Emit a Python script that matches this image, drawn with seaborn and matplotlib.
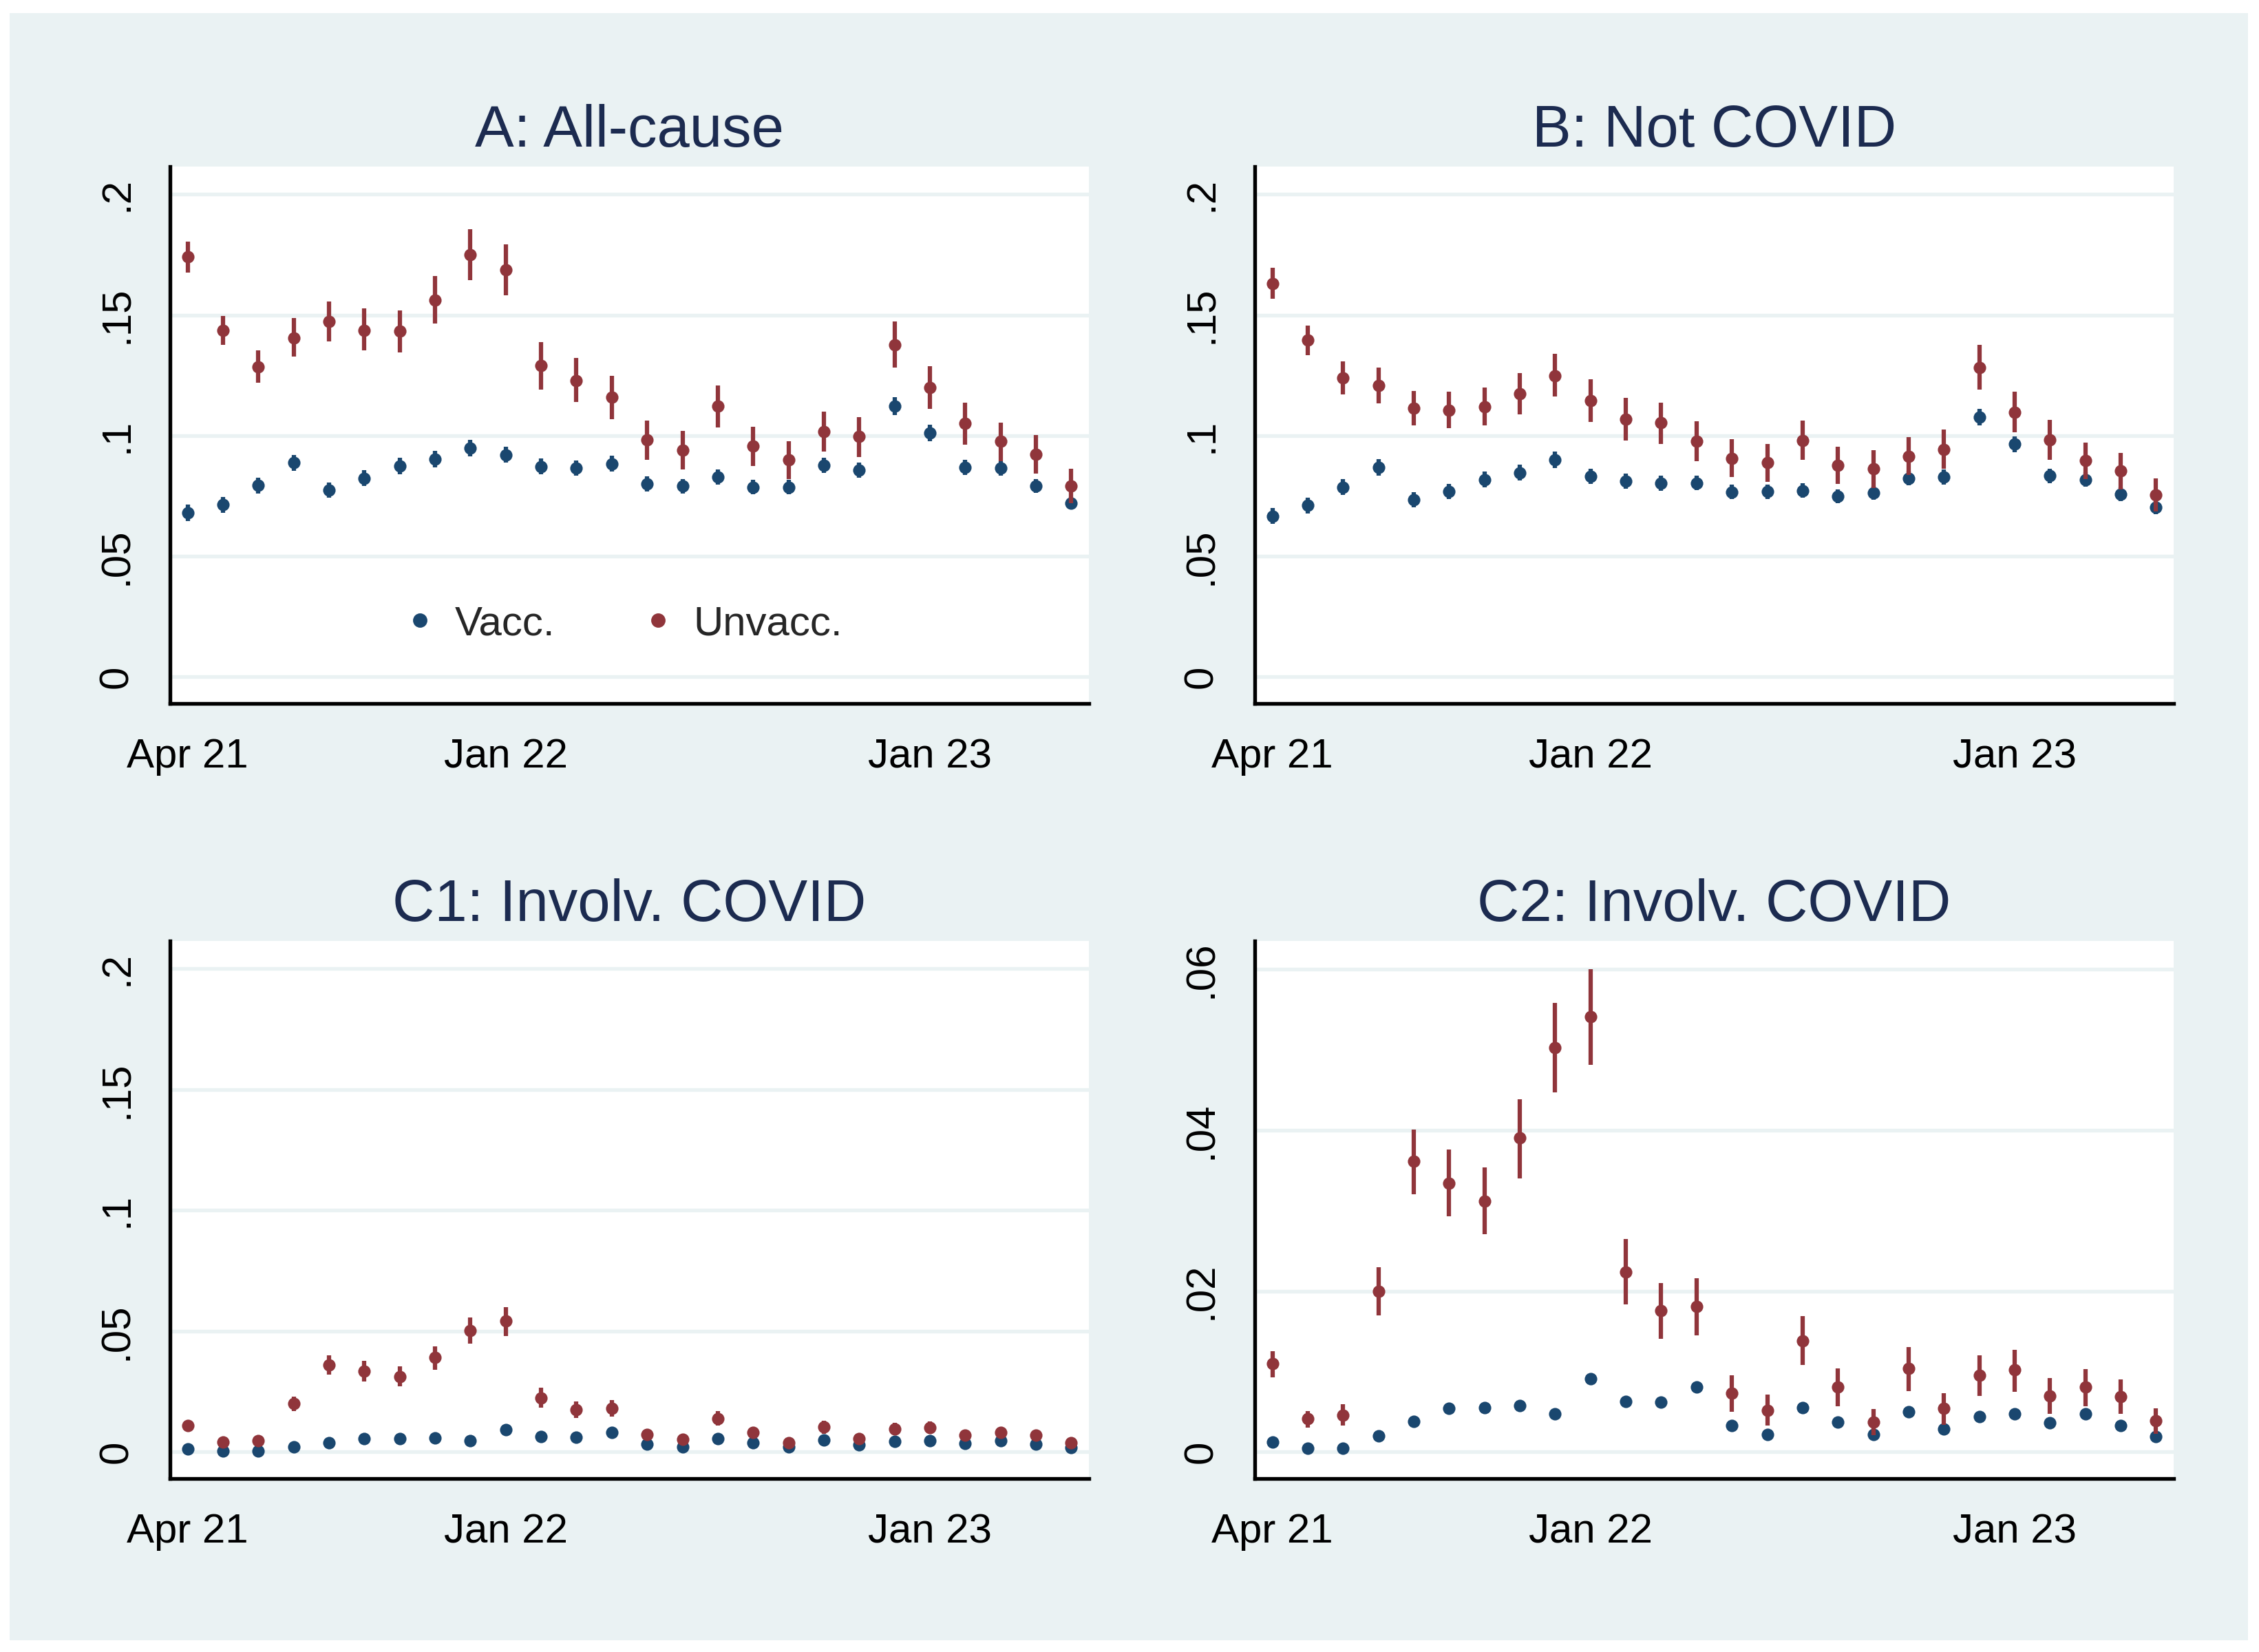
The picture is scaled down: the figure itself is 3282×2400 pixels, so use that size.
"""
Monthly mortality rates, vaccinated vs unvaccinated, four panels (Stata s2color look).
"""
import numpy as np
import pandas as pd
import matplotlib.pyplot as plt
from matplotlib.lines import Line2D
from matplotlib.patches import Rectangle
import seaborn as sns

# Apr 2021 .. May 2023, one point per month
months = ["Apr 21", "May 21", "Jun 21", "Jul 21", "Aug 21", "Sep 21", "Oct 21", "Nov 21", "Dec 21",
          "Jan 22", "Feb 22", "Mar 22", "Apr 22", "May 22", "Jun 22", "Jul 22", "Aug 22", "Sep 22",
          "Oct 22", "Nov 22", "Dec 22", "Jan 23", "Feb 23", "Mar 23", "Apr 23", "May 23"]
tick_months = ["Apr 21", "Jan 22", "Jan 23"]

# A: all-cause
vacc_A = [0.0679, 0.0714, 0.0793, 0.0887, 0.0774, 0.0824, 0.0874, 0.0902, 0.0948, 0.0921, 0.0872, 0.0865, 0.0884,
          0.0801, 0.0790, 0.0829, 0.0786, 0.0786, 0.0877, 0.0857, 0.1122, 0.1010, 0.0868, 0.0865, 0.0792, 0.0720]
vacc_A_hw = [0.0034, 0.0033, 0.0033, 0.0034, 0.0032, 0.0033, 0.0034, 0.0034, 0.0034, 0.0034, 0.0033, 0.0032, 0.0033,
             0.0031, 0.0030, 0.0031, 0.0030, 0.0030, 0.0032, 0.0031, 0.0036, 0.0034, 0.0031, 0.0030, 0.0029, 0.0027]
unvacc_A = [0.1741, 0.1435, 0.1284, 0.1405, 0.1473, 0.1437, 0.1432, 0.1563, 0.1749, 0.1686, 0.1292, 0.1229, 0.1158,
            0.0982, 0.0940, 0.1121, 0.0958, 0.0900, 0.1018, 0.0996, 0.1376, 0.1199, 0.1051, 0.0976, 0.0923, 0.0790]
unvacc_A_lo = [0.1676, 0.1375, 0.1219, 0.1329, 0.1391, 0.1354, 0.1344, 0.1466, 0.1643, 0.1582, 0.1192, 0.1138, 0.1067,
               0.0899, 0.0860, 0.1033, 0.0875, 0.0821, 0.0935, 0.0912, 0.1283, 0.1110, 0.0963, 0.0894, 0.0844, 0.0719]
unvacc_A_hi = [0.1805, 0.1497, 0.1353, 0.1487, 0.1557, 0.1527, 0.1519, 0.1661, 0.1854, 0.1792, 0.1388, 0.1321, 0.1249,
               0.1063, 0.1021, 0.1208, 0.1037, 0.0978, 0.1100, 0.1077, 0.1473, 0.1287, 0.1137, 0.1055, 0.1003, 0.0862]

# B: not COVID
vacc_B = [0.0667, 0.0711, 0.0787, 0.0868, 0.0735, 0.0769, 0.0818, 0.0847, 0.0900, 0.0832, 0.0811, 0.0802, 0.0804,
          0.0766, 0.0768, 0.0772, 0.0749, 0.0762, 0.0824, 0.0829, 0.1077, 0.0964, 0.0833, 0.0818, 0.0757, 0.0702]
vacc_B_hw = [0.0033, 0.0033, 0.0033, 0.0034, 0.0031, 0.0032, 0.0033, 0.0033, 0.0034, 0.0032, 0.0031, 0.0031, 0.0031,
             0.0030, 0.0030, 0.0030, 0.0029, 0.0029, 0.0031, 0.0031, 0.0035, 0.0033, 0.0031, 0.0030, 0.0029, 0.0027]
unvacc_B = [0.1631, 0.1396, 0.1240, 0.1207, 0.1115, 0.1104, 0.1119, 0.1174, 0.1249, 0.1144, 0.1068, 0.1054, 0.0976,
            0.0906, 0.0887, 0.0979, 0.0876, 0.0863, 0.0915, 0.0943, 0.1283, 0.1097, 0.0982, 0.0896, 0.0854, 0.0754]
unvacc_B_lo = [0.1568, 0.1333, 0.1171, 0.1134, 0.1042, 0.1030, 0.1042, 0.1089, 0.1161, 0.1058, 0.0979, 0.0966, 0.0894,
               0.0829, 0.0808, 0.0899, 0.0801, 0.0784, 0.0838, 0.0862, 0.1192, 0.1013, 0.0899, 0.0820, 0.0778, 0.0685]
unvacc_B_hi = [0.1695, 0.1455, 0.1308, 0.1281, 0.1186, 0.1183, 0.1198, 0.1259, 0.1339, 0.1234, 0.1156, 0.1137, 0.1060,
               0.0984, 0.0966, 0.1063, 0.0955, 0.0940, 0.0994, 0.1024, 0.1376, 0.1183, 0.1065, 0.0972, 0.0929, 0.0824]

# C1 / C2: involving COVID (same series, two y scales)
vacc_C = [0.0012, 0.0005, 0.0005, 0.0020, 0.0038, 0.0054, 0.0055, 0.0058, 0.0047, 0.0091, 0.0063, 0.0062, 0.0081,
          0.0033, 0.0022, 0.0055, 0.0037, 0.0022, 0.0050, 0.0029, 0.0044, 0.0047, 0.0036, 0.0047, 0.0033, 0.0019]
vacc_C_hw = [0.0003, 0.0002, 0.0002, 0.0003, 0.0004, 0.0005, 0.0005, 0.0005, 0.0004, 0.0006, 0.0005, 0.0005, 0.0006,
             0.0004, 0.0003, 0.0004, 0.0003, 0.0003, 0.0004, 0.0003, 0.0004, 0.0004, 0.0003, 0.0004, 0.0003, 0.0003]
unvacc_C = [0.0110, 0.0041, 0.0046, 0.0200, 0.0361, 0.0334, 0.0312, 0.0390, 0.0502, 0.0541, 0.0224, 0.0176, 0.0181,
            0.0073, 0.0052, 0.0138, 0.0081, 0.0037, 0.0104, 0.0054, 0.0095, 0.0102, 0.0070, 0.0081, 0.0069, 0.0039]
unvacc_C_lo = [0.0093, 0.0030, 0.0033, 0.0170, 0.0320, 0.0293, 0.0271, 0.0340, 0.0447, 0.0481, 0.0183, 0.0141, 0.0145,
               0.0050, 0.0033, 0.0108, 0.0057, 0.0021, 0.0076, 0.0034, 0.0070, 0.0075, 0.0047, 0.0057, 0.0047, 0.0023]
unvacc_C_hi = [0.0125, 0.0051, 0.0059, 0.0230, 0.0401, 0.0376, 0.0354, 0.0438, 0.0558, 0.0600, 0.0265, 0.0210, 0.0216,
               0.0095, 0.0071, 0.0169, 0.0104, 0.0053, 0.0130, 0.0073, 0.0120, 0.0127, 0.0092, 0.0103, 0.0090, 0.0054]

ticks_wide = [0, 0.05, 0.1, 0.15, 0.2]
labels_wide = ["0", ".05", ".1", ".15", ".2"]
ticks_narrow = [0, 0.02, 0.04, 0.06]
labels_narrow = ["0", ".02", ".04", ".06"]

NAVY = "#1a476f"
MAROON = "#90353b"
BG = "#eaf2f3"
TITLE_C = "#1c2b50"
TICK_FS = 14.4

sns.set_style("white")
plt.rcParams["font.family"] = ["Liberation Sans", "DejaVu Sans"]


def panel_frame(vacc, vacc_hw, unvacc, lo, hi):
    n = len(months)
    df = pd.DataFrame({
        "month": months * 2,
        "x": list(range(n)) * 2,
        "rate": vacc + unvacc,
        "lo": [v - h for v, h in zip(vacc, vacc_hw)] + lo,
        "hi": [v + h for v, h in zip(vacc, vacc_hw)] + hi,
        "group": ["Vacc."] * n + ["Unvacc."] * n,
    })
    return df


def draw_panel(ax, title, df, yticks, ylabels, ylim, legend=False):
    ax.set_facecolor("white")
    for grp, col, z in [("Vacc.", NAVY, 2), ("Unvacc.", MAROON, 4)]:
        sub = df[df["group"] == grp]
        ax.vlines(sub["x"], sub["lo"], sub["hi"], color=col, lw=1.5, zorder=z)
        sns.scatterplot(data=sub, x="x", y="rate", color=col, s=19, linewidth=0,
                        ax=ax, zorder=z + 1, legend=False)
    ax.set_xlim(-0.5, len(months) - 0.5)
    ax.set_ylim(*ylim)
    ax.set_xticks([months.index(m) for m in tick_months])
    ax.set_xticklabels(tick_months, fontsize=TICK_FS)
    ax.set_yticks(yticks)
    ax.set_yticklabels(ylabels, fontsize=TICK_FS, rotation=90, va="center")
    ax.set_xlabel("")
    ax.set_ylabel("")
    ax.yaxis.grid(True, color=BG, lw=1.3)
    ax.xaxis.grid(False)
    ax.set_axisbelow(True)
    for s in ["top", "right"]:
        ax.spines[s].set_visible(False)
    for s in ["left", "bottom"]:
        ax.spines[s].set_color("black")
        ax.spines[s].set_linewidth(1.3)
    ax.tick_params(axis="both", length=6, width=1.1, color="black", pad=6, labelcolor="black")
    ax.set_title(title, fontsize=20.4, color=TITLE_C, pad=7)
    if legend:
        handles = [Line2D([], [], ls="", marker="o", ms=4.0, color=NAVY, mec=NAVY),
                   Line2D([], [], ls="", marker="o", ms=4.0, color=MAROON, mec=MAROON)]
        ax.legend(handles, ["Vacc.", "Unvacc."], ncol=2, frameon=False, loc="center",
                  bbox_to_anchor=(0.495, 0.148), fontsize=TICK_FS, handlelength=0.6,
                  handletextpad=0.55, columnspacing=2.2)


W, H = 3282, 2400
fig = plt.figure(figsize=(W / 300, H / 300), dpi=300, facecolor="white")
fig.add_artist(Rectangle((14 / W, 1 - 2383 / H), (3266 - 14) / W, (2383 - 19) / H,
                         transform=fig.transFigure, facecolor=BG, edgecolor="none", zorder=-10))

lefts = [247 / W, 1823 / W]
width = (1582 - 247) / W
top_row = (1 - 1022 / H, (1022 - 242) / H)
bot_row = (1 - 2148 / H, (2148 - 1367) / H)

axA = fig.add_axes([lefts[0], top_row[0], width, top_row[1]])
axB = fig.add_axes([lefts[1], top_row[0], width, top_row[1]])
axC1 = fig.add_axes([lefts[0], bot_row[0], width, bot_row[1]])
axC2 = fig.add_axes([lefts[1], bot_row[0], width, bot_row[1]])

dfA = panel_frame(vacc_A, vacc_A_hw, unvacc_A, unvacc_A_lo, unvacc_A_hi)
dfB = panel_frame(vacc_B, vacc_B_hw, unvacc_B, unvacc_B_lo, unvacc_B_hi)
dfC = panel_frame(vacc_C, vacc_C_hw, unvacc_C, unvacc_C_lo, unvacc_C_hi)

draw_panel(axA, "A: All-cause", dfA, ticks_wide, labels_wide, (-0.011, 0.2115), legend=True)
draw_panel(axB, "B: Not COVID", dfB, ticks_wide, labels_wide, (-0.011, 0.2115))
draw_panel(axC1, "C1: Involv. COVID", dfC, ticks_wide, labels_wide, (-0.011, 0.2115))
draw_panel(axC2, "C2: Involv. COVID", dfC, ticks_narrow, labels_narrow, (-0.0033, 0.0635))

fig.savefig("out.png", dpi=300, facecolor="white")
